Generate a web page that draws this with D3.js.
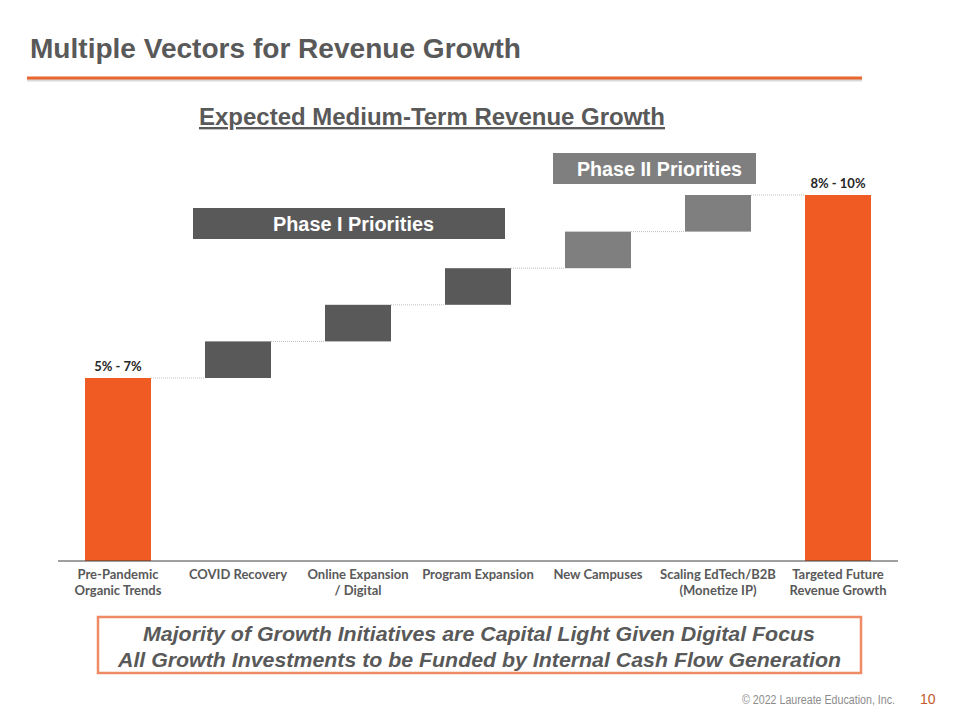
<!DOCTYPE html>
<html><head><meta charset="utf-8">
<script src="https://cdn.jsdelivr.net/npm/d3@7"></script>
<style>
body{margin:0;background:#fff;}
svg{display:block;}
</style></head>
<body><svg id="c" width="960" height="720"></svg>
<script>
const categories = ["Pre-Pandemic\nOrganic Trends","COVID Recovery","Online Expansion\n/ Digital","Program Expansion","New Campuses","Scaling EdTech/B2B\n(Monetize IP)","Targeted Future\nRevenue Growth"];
const stepValues = [5, 1, 1, 1, 1, 1, 10];
const stepTypes = ["total","phase1","phase1","phase1","phase2","phase2","total"];
const valueLabels = ["5% - 7%","","","","","","8% - 10%"];
const phases = [
  {name:"Phase I Priorities", from:1, to:3, type:"phase1"},
  {name:"Phase II Priorities", from:4, to:5, type:"phase2"}
];
const colors = {total:"#F05A23", phase1:"#595959", phase2:"#7F7F7F"};

const svg = d3.select("#c");
const font = "Arial, 'Liberation Sans', sans-serif";
const textGray = "#595959";

// Header
svg.append("text").attr("x",30).attr("y",58).attr("font-family",font).attr("font-weight","bold")
  .attr("font-size",28).attr("fill",textGray).attr("textLength",491).attr("lengthAdjust","spacingAndGlyphs")
  .text("Multiple Vectors for Revenue Growth");
svg.append("line").attr("x1",27).attr("x2",862).attr("y1",80).attr("y2",80).attr("stroke","#d9d9d9").attr("stroke-width",3);
svg.append("line").attr("x1",27).attr("x2",862).attr("y1",78).attr("y2",78).attr("stroke","#E8672E").attr("stroke-width",3);

svg.append("text").attr("x",199).attr("y",125).attr("font-family",font)
  .attr("font-weight","bold").attr("font-size",23.5).attr("fill",textGray).attr("text-decoration","underline")
  .attr("textLength",466).attr("lengthAdjust","spacingAndGlyphs")
  .text("Expected Medium-Term Revenue Growth");

// Waterfall data
let run = 0;
const bars = stepValues.map((v,i)=>{
  let y0, y1;
  if (stepTypes[i]==="total"){ y0=0; y1=v; run=v; }
  else { y0=run; y1=run+v; run=y1; }
  return {cat:categories[i], y0, y1, type:stepTypes[i], label:valueLabels[i], i};
});

const x = d3.scaleBand().domain(categories).range([58,898]).paddingInner(0.45).paddingOuter(0.225);
const y = d3.scaleLinear().domain([0,10]).range([561,195]);

// connectors
for (let i=0;i<bars.length-1;i++){
  const b=bars[i], n=bars[i+1];
  svg.append("line").attr("x1",x(b.cat)+x.bandwidth()).attr("x2",x(n.cat))
    .attr("y1",y(b.y1)).attr("y2",y(b.y1)).attr("stroke","#BFBFBF").attr("stroke-width",1)
    .attr("stroke-dasharray","1,1");
}

svg.selectAll("rect.bar").data(bars).enter().append("rect").attr("class","bar")
  .attr("x",d=>x(d.cat)).attr("width",x.bandwidth())
  .attr("y",d=>y(d.y1)).attr("height",d=>y(d.y0)-y(d.y1))
  .attr("fill",d=>colors[d.type]);

svg.selectAll("text.vl").data(bars.filter(d=>d.label)).enter().append("text").attr("class","vl")
  .attr("x",d=>x(d.cat)+x.bandwidth()/2).attr("y",d=>y(d.y1)-7).attr("text-anchor","middle")
  .attr("font-family","Lato, 'Open Sans', sans-serif").attr("font-weight","bold").attr("font-size",13)
  .attr("fill","#262626").text(d=>d.label);

// axis
const ax = svg.append("g").attr("transform","translate(0,561)").call(d3.axisBottom(x).tickSize(0).tickFormat(""));
ax.select(".domain").attr("stroke","#404040").attr("stroke-width",1.2).attr("d","M58,0H898");

svg.selectAll("text.cl").data(categories).enter().append("text").attr("class","cl")
  .attr("x",d=>x(d)+x.bandwidth()/2).attr("y",579).attr("text-anchor","middle")
  .attr("font-family","Lato, 'Open Sans', sans-serif").attr("font-weight","bold").attr("font-size",13)
  .attr("fill",textGray)
  .each(function(d){
    const t=d3.select(this);
    d.split("\n").forEach((line,k)=>{
      t.append("tspan").attr("x",x(d)+x.bandwidth()/2).attr("dy",k===0?0:16).text(line);
    });
  });

// phase boxes
const phaseBoxes = [
  {p:phases[0], x0:193, x1:505, top:208, h:31, tx:273, len:161},
  {p:phases[1], x0:553, x1:756, top:153, h:31, tx:577, len:165}
];
phaseBoxes.forEach(b=>{
  svg.append("rect").attr("x",b.x0).attr("y",b.top).attr("width",b.x1-b.x0).attr("height",b.h)
    .attr("fill",colors[b.p.type]);
  svg.append("text").attr("x",b.tx).attr("y",b.top+b.h/2+7)
    .attr("font-family",font).attr("font-weight","bold").attr("font-size",19.5).attr("fill","#fff")
    .attr("textLength",b.len).attr("lengthAdjust","spacingAndGlyphs").text(b.p.name);
});

// bottom box
svg.append("rect").attr("x",98).attr("y",617).attr("width",763).attr("height",56)
  .attr("fill","#fff").attr("stroke","#EE8A64").attr("stroke-width",2.5);
[["Majority of Growth Initiatives are Capital Light Given Digital Focus",143,672],
 ["All Growth Investments to be Funded by Internal Cash Flow Generation",118,723]].forEach((t,k)=>{
  svg.append("text").attr("x",t[1]).attr("y",641+k*25.5).attr("font-family",font)
    .attr("font-style","italic").attr("font-weight","bold").attr("font-size",21).attr("fill",textGray)
    .attr("textLength",t[2]).attr("lengthAdjust","spacingAndGlyphs").text(t[0]);
});

svg.append("text").attr("x",742).attr("y",704).attr("font-family",font)
  .attr("font-size",12).attr("fill","#8c8c8c").attr("textLength",153).attr("lengthAdjust","spacingAndGlyphs")
  .text("© 2022 Laureate Education, Inc.");
svg.append("text").attr("x",920).attr("y",704).attr("font-family",font)
  .attr("font-size",14).attr("fill","#C4582A").text("10");
</script></body></html>
